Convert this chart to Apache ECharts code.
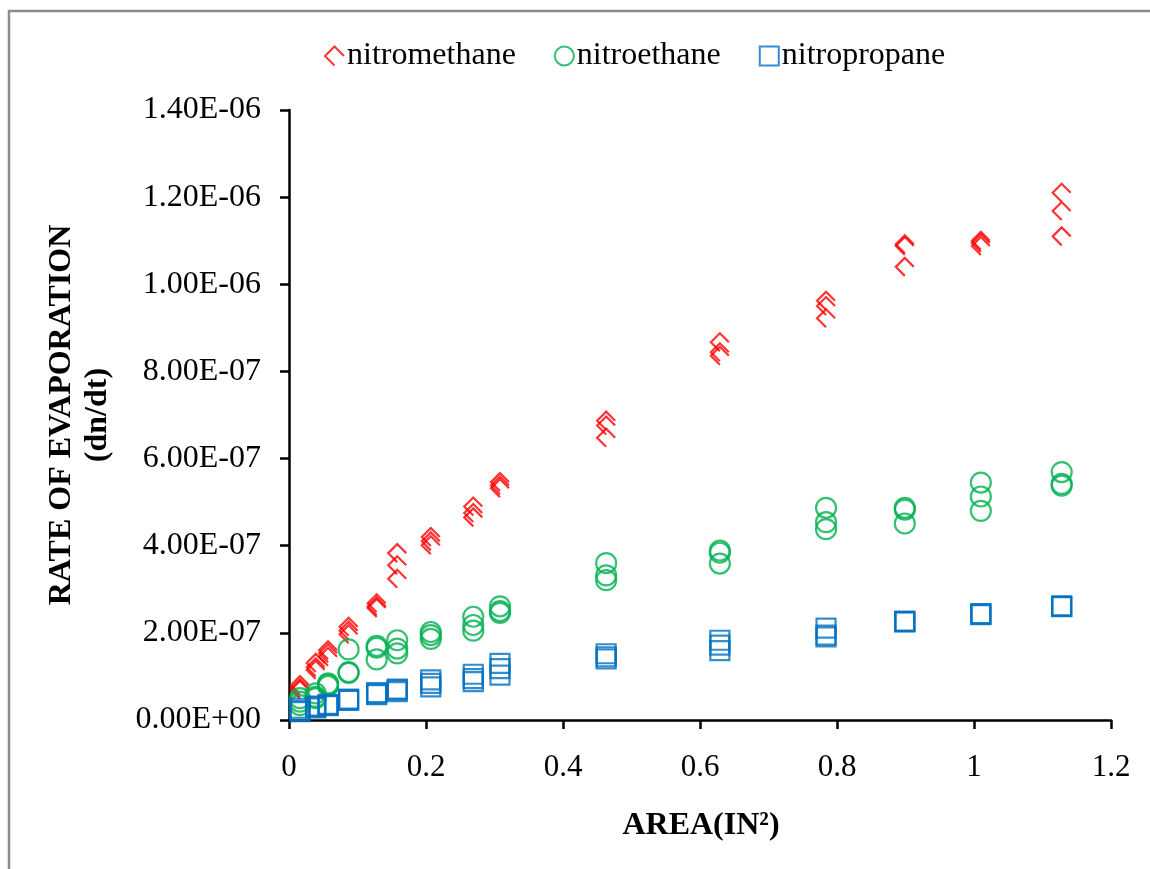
<!DOCTYPE html>
<html>
<head>
<meta charset="utf-8">
<script src="https://cdn.jsdelivr.net/npm/echarts@6/dist/echarts.min.js"></script>
<style>
html,body{margin:0;padding:0;background:#fff;}
#chart{width:1150px;height:869px;}
</style>
</head>
<body>
<div id="chart"></div>
<script>
// ---- data ----
const area = [0.016, 0.039, 0.057, 0.087, 0.128, 0.158, 0.207, 0.269, 0.308, 0.463, 0.629, 0.784, 0.899, 1.010, 1.128];

const nitromethane = [
  [8.0e-8, 7.3e-8, 6.9e-8],
  [1.31e-7, 1.21e-7, 1.15e-7],
  [1.60e-7, 1.53e-7, 1.45e-7],
  [2.14e-7, 2.05e-7, 1.97e-7],
  [2.68e-7, 2.61e-7, 2.57e-7],
  [3.83e-7, 3.55e-7, 3.24e-7],
  [4.20e-7, 4.10e-7, 4.01e-7],
  [4.90e-7, 4.75e-7, 4.65e-7],
  [5.46e-7, 5.38e-7, 5.32e-7],
  [6.87e-7, 6.76e-7, 6.48e-7],
  [8.67e-7, 8.44e-7, 8.36e-7],
  [9.62e-7, 9.50e-7, 9.22e-7],
  [1.092e-6, 1.088e-6, 1.040e-6],
  [1.100e-6, 1.095e-6, 1.088e-6],
  [1.210e-6, 1.168e-6, 1.110e-6]
];

const nitroethane = [
  [5.0e-8, 4.2e-8, 3.4e-8],
  [6.1e-8, 5.3e-8, 5.0e-8],
  [8.4e-8, 7.8e-8, 8.1e-8],
  [1.62e-7, 1.08e-7, 1.10e-7],
  [1.70e-7, 1.66e-7, 1.39e-7],
  [1.83e-7, 1.64e-7, 1.53e-7],
  [2.02e-7, 1.95e-7, 1.86e-7],
  [2.37e-7, 2.18e-7, 2.05e-7],
  [2.61e-7, 2.50e-7, 2.46e-7],
  [3.60e-7, 3.32e-7, 3.21e-7],
  [3.89e-7, 3.84e-7, 3.59e-7],
  [4.87e-7, 4.54e-7, 4.38e-7],
  [4.87e-7, 4.83e-7, 4.51e-7],
  [5.45e-7, 5.13e-7, 4.80e-7],
  [5.69e-7, 5.42e-7, 5.38e-7]
];

const nitropropane = [
  [2.7e-8, 1.9e-8, 2.2e-8],
  [3.2e-8, 3.0e-8, 2.8e-8],
  [3.6e-8, 3.4e-8, 3.3e-8],
  [4.8e-8, 4.6e-8, 4.5e-8],
  [6.3e-8, 6.0e-8, 5.8e-8],
  [7.1e-8, 6.9e-8, 6.5e-8],
  [9.2e-8, 8.4e-8, 7.6e-8],
  [1.05e-7, 9.5e-8, 8.8e-8],
  [1.30e-7, 1.18e-7, 1.03e-7],
  [1.52e-7, 1.45e-7, 1.40e-7],
  [1.83e-7, 1.72e-7, 1.59e-7],
  [2.11e-7, 1.95e-7, 1.91e-7],
  [2.27e-7, 2.25e-7, 2.26e-7],
  [2.44e-7, 2.43e-7, 2.42e-7],
  [2.62e-7, 2.61e-7, 2.60e-7]
];

const seriesNames = ['nitromethane', 'nitroethane', 'nitropropane'];
const xAxisTitle = 'AREA(IN²)';
const yAxisTitle1 = 'RATE OF EVAPORATION';
const yAxisTitle2 = '(dn/dt)';

// ---- chart ----
const FONT = "'Liberation Serif', 'Times New Roman', serif";
function toPairs(vals){
  const out = [];
  area.forEach((a, i) => vals[i].forEach(v => out.push([a, v])));
  return out;
}
function sci(v){
  if (Math.abs(v) < 1e-20) return '0.00E+00';
  const s = v.toExponential(2);
  const parts = s.split('e');
  const sign = parts[1][0];
  const d = parts[1].slice(1).padStart(2, '0');
  return parts[0] + 'E' + sign + d;
}
const chevron = 'path://M20,10 L10,0 L0,10 L10,20';

const chart = echarts.init(document.getElementById('chart'), null, {renderer: 'canvas'});
chart.setOption({
  animation: false,
  backgroundColor: '#fff',
  textStyle: {fontFamily: FONT},
  grid: {left: 289, right: 39, top: 110, bottom: 149, containLabel: false},
  legend: {
    left: 319, top: 35,
    itemWidth: 19, itemHeight: 19, itemGap: 38,
    textStyle: {fontFamily: FONT, fontSize: 32, color: '#000', padding: [0,0,0,-2]},
    data: seriesNames
  },
  xAxis: {
    type: 'value', min: 0, max: 1.2, interval: 0.2,
    axisLine: {show: true, onZero: false, lineStyle: {color: '#000', width: 2.5}},
    axisTick: {show: true, length: 9, lineStyle: {color: '#000', width: 2.5}},
    splitLine: {show: false},
    axisLabel: {fontFamily: FONT, fontSize: 31, color: '#000', margin: 32,
      formatter: v => String(+v.toFixed(1))}
  },
  yAxis: {
    type: 'value', min: 0, max: 1.4e-6, interval: 2e-7,
    axisLine: {show: true, onZero: false, lineStyle: {color: '#000', width: 2.5}},
    axisTick: {show: true, length: 9, lineStyle: {color: '#000', width: 2.5}},
    splitLine: {show: false},
    axisLabel: {fontFamily: FONT, fontSize: 32, color: '#000', margin: 28, formatter: sci}
  },
  graphic: [
    {type: 'rect', shape: {x: 9, y: 11, width: 1300, height: 1000}, style: {fill: 'none', stroke: '#8c8c8c', lineWidth: 2.5}, z: 100, silent: true},
    {type: 'text', x: 701, y: 826, style: {text: xAxisTitle, font: "bold 32px " + FONT, fill: '#000', textAlign: 'center', textVerticalAlign: 'middle'}},
    {type: 'text', x: 62, y: 415, rotation: Math.PI/2, style: {text: yAxisTitle1, font: "bold 32px " + FONT, fill: '#000', textAlign: 'center', textVerticalAlign: 'middle'}},
    {type: 'text', x: 98, y: 415, rotation: Math.PI/2, style: {text: yAxisTitle2, font: "bold 32px " + FONT, fill: '#000', textAlign: 'center', textVerticalAlign: 'middle'}}
  ],
  series: [
    {name: seriesNames[0], type: 'scatter', symbol: chevron, symbolSize: 18, data: toPairs(nitromethane),
      itemStyle: {color: 'rgba(0,0,0,0)', borderColor: '#FF0000', borderWidth: 2.2}},
    {name: seriesNames[1], type: 'scatter', symbol: 'circle', symbolSize: 20, data: toPairs(nitroethane),
      itemStyle: {color: 'rgba(0,0,0,0)', borderColor: '#00B050', borderWidth: 2.2}},
    {name: seriesNames[2], type: 'scatter', symbol: 'rect', symbolSize: 19, data: toPairs(nitropropane),
      itemStyle: {color: 'rgba(0,0,0,0)', borderColor: '#0070C0', borderWidth: 2.2}}
  ]
});
</script>
</body>
</html>
